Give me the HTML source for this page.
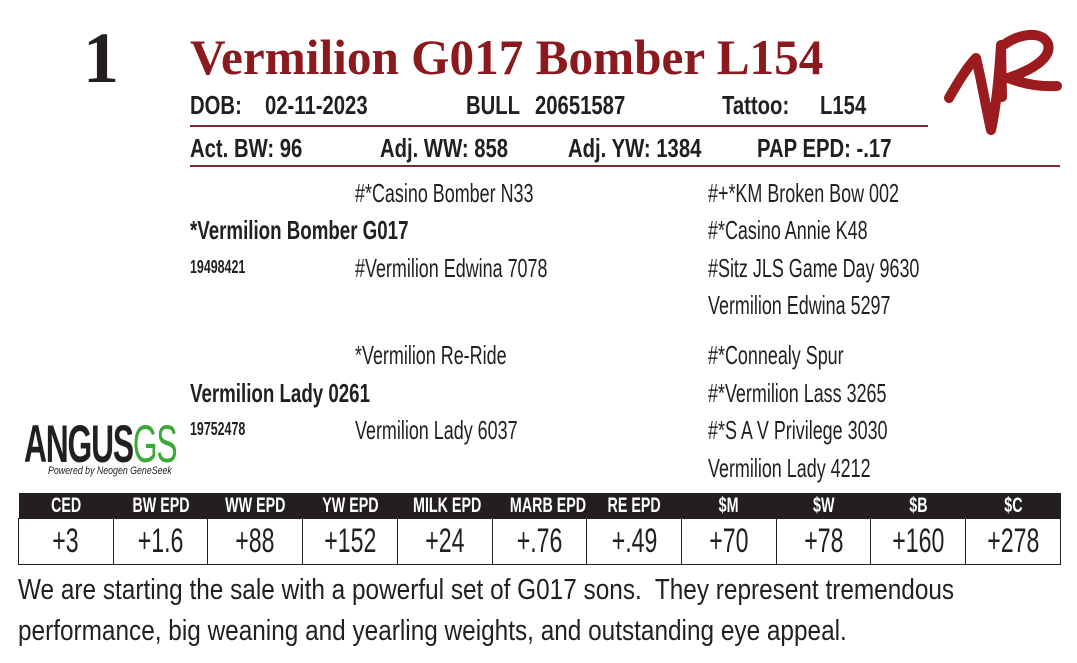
<!DOCTYPE html>
<html><head><meta charset="utf-8"><style>
body{margin:0;width:1077px;height:663px;background:#fff;position:relative;overflow:hidden;font-family:"Liberation Sans",sans-serif;color:#231f20}
.t{position:absolute;white-space:nowrap;line-height:1;transform:scaleX(0.69);transform-origin:left top}
.p{font-size:26px}
.h{font-size:26px;font-weight:bold;transform:scaleX(0.78)}
.b{font-weight:bold}
.hr{position:absolute;height:2px;background:#7a2a2a}
table{position:absolute;left:18px;top:493px;width:1043px;border-collapse:collapse;table-layout:fixed}
td{border:1.5px solid #231f20;text-align:center;padding:0;overflow:hidden}
th{background:#231f20;color:#fff;height:25px;padding:0;font-weight:bold;font-size:21px}
th span,td span{display:inline-block;transform:scaleX(0.68);white-space:nowrap}
td{height:45px;font-size:34px}
</style></head><body>
<div style="position:absolute;left:83px;top:22px;font-family:'Liberation Serif',serif;font-weight:bold;font-size:72px;line-height:1">1</div>
<div class="t" style="left:190px;top:32px;font-family:'Liberation Serif',serif;font-weight:bold;font-size:50px;color:#8b1a1f;transform:scaleX(0.985)">Vermilion G017 Bomber L154</div>

<div class="t h" style="left:190px;top:92px">DOB:</div>
<div class="t h" style="left:265px;top:92px">02-11-2023</div>
<div class="t h" style="left:466px;top:92px">BULL</div>
<div class="t h" style="left:535px;top:92px">20651587</div>
<div class="t h" style="left:722px;top:92px">Tattoo:</div>
<div class="t h" style="left:820px;top:92px">L154</div>
<div class="hr" style="left:190px;top:125px;width:738px"></div>
<div class="t h" style="left:190px;top:135px">Act. BW: 96</div>
<div class="t h" style="left:380px;top:135px">Adj. WW: 858</div>
<div class="t h" style="left:568px;top:135px">Adj. YW: 1384</div>
<div class="t h" style="left:757px;top:135px">PAP EPD: -.17</div>
<div class="hr" style="left:190px;top:165px;width:870px"></div>

<div class="t p" style="left:355px;top:180px">#*Casino Bomber N33</div>
<div class="t p" style="left:708px;top:180px">#+*KM Broken Bow 002</div>
<div class="t p b" style="left:190px;top:217px;transform:scaleX(0.72)">*Vermilion Bomber G017</div>
<div class="t p" style="left:708px;top:217px">#*Casino Annie K48</div>
<div class="t b" style="left:190px;top:258px;font-size:18px">19498421</div>
<div class="t p" style="left:355px;top:255px">#Vermilion Edwina 7078</div>
<div class="t p" style="left:708px;top:255px">#Sitz JLS Game Day 9630</div>
<div class="t p" style="left:708px;top:292px">Vermilion Edwina 5297</div>

<div class="t p" style="left:355px;top:342px">*Vermilion Re-Ride</div>
<div class="t p" style="left:708px;top:342px">#*Connealy Spur</div>
<div class="t p b" style="left:190px;top:380px;transform:scaleX(0.72)">Vermilion Lady 0261</div>
<div class="t p" style="left:708px;top:380px">#*Vermilion Lass 3265</div>
<div class="t b" style="left:190px;top:420px;font-size:18px">19752478</div>
<div class="t p" style="left:355px;top:417px">Vermilion Lady 6037</div>
<div class="t p" style="left:708px;top:417px">#*S A V Privilege 3030</div>
<div class="t p" style="left:708px;top:455px">Vermilion Lady 4212</div>

<div class="t b" style="left:24px;top:418px;font-size:53px;letter-spacing:-2px;transform:scaleX(0.6)">ANGUS<span style="color:#3aa935;font-weight:normal">GS</span></div>
<div class="t" style="left:48px;top:466px;font-size:11px;font-style:italic;transform:scaleX(0.8)">Powered by Neogen GeneSeek</div>

<svg style="position:absolute;left:940px;top:20px" width="130" height="125" viewBox="940 20 130 125">
<g fill="none" stroke="#9b1b1f" stroke-width="10" stroke-linecap="round" stroke-linejoin="round">
<path d="M949 98 C958 82 968 66 976 58 C981 78 986 108 991 130 C996 108 999 78 1001 45"/>
<path d="M1002 97 L1001 47 C1018 33 1042 30 1048 44 C1052 58 1032 70 1008 78 C1024 84 1040 87 1057 86"/>
</g></svg>

<table><tr>
<th><span>CED</span></th><th><span>BW EPD</span></th><th><span>WW EPD</span></th><th><span>YW EPD</span></th><th><span>MILK EPD</span></th><th><span>MARB EPD</span></th><th><span>RE EPD</span></th><th><span>$M</span></th><th><span>$W</span></th><th><span>$B</span></th><th><span>$C</span></th>
</tr><tr>
<td><span>+3</span></td><td><span>+1.6</span></td><td><span>+88</span></td><td><span>+152</span></td><td><span>+24</span></td><td><span>+.76</span></td><td><span>+.49</span></td><td><span>+70</span></td><td><span>+78</span></td><td><span>+160</span></td><td><span>+278</span></td>
</tr></table>

<div class="t" style="left:18px;top:576px;font-size:29px;transform:scaleX(0.84)">We are starting the sale with a powerful set of G017 sons.&nbsp; They represent tremendous</div>
<div class="t" style="left:18px;top:617px;font-size:29px;transform:scaleX(0.84)">performance, big weaning and yearling weights, and outstanding eye appeal.</div>
</body></html>
